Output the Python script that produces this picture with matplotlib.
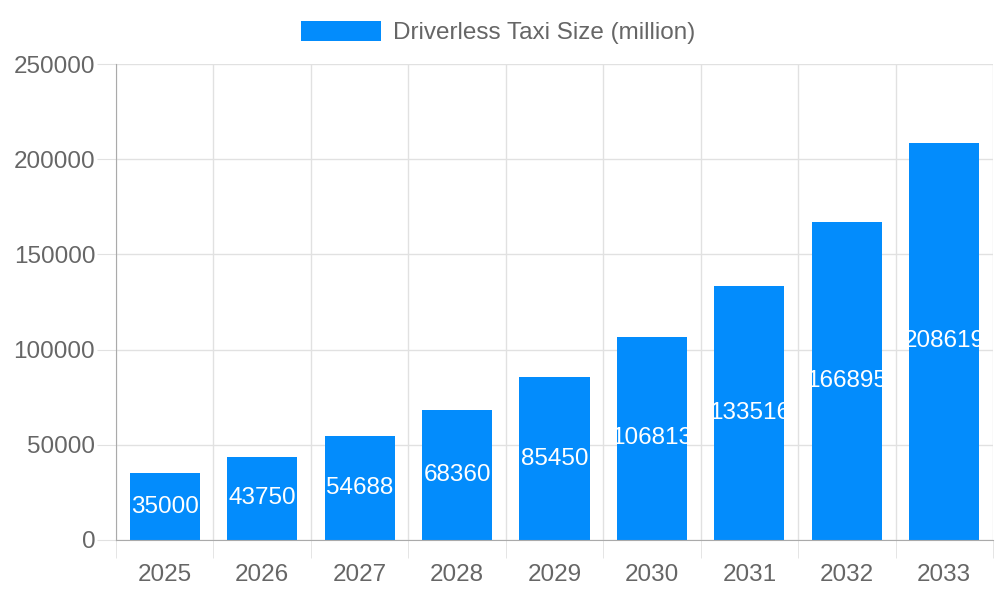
import matplotlib.pyplot as plt
import numpy as np

# data
years = ["2025", "2026", "2027", "2028", "2029", "2030", "2031", "2032", "2033"]
taxi_size = [35000, 43750, 54688, 68360, 85450, 106813, 133516, 166895, 208619]
series_name = "Driverless Taxi Size (million)"

BAR_COLOR = "#038cfc"
GRID = "#e1e1e1"
TEXT = "#666666"
FS = 17.5

plt.rcParams["font.family"] = ["Liberation Sans", "DejaVu Sans"]

fig = plt.figure(figsize=(10, 6), dpi=100)
ax = fig.add_axes([0.116, 0.1, 0.877, 0.7933])

x = np.arange(len(years))
bars = ax.bar(x, taxi_size, width=0.72, color=BAR_COLOR, zorder=2, label=series_name)

# value labels, white, centred in the bar and clipped to it
for b, v in zip(bars, taxi_size):
    t = ax.text(b.get_x() + b.get_width() / 2, v / 2, str(v), ha="center", va="center",
                color="white", fontsize=FS, zorder=3)
    t.set_clip_path(b)

ax.set_xlim(-0.5, len(years) - 0.5)
ax.set_ylim(0, 250000)
ax.set_yticks(np.arange(0, 250001, 50000))
ax.set_xticks(x)
ax.set_xticklabels(years)
ax.set_xticks(np.arange(-0.5, len(years)), minor=True)

ax.grid(True, axis="y", color=GRID, linewidth=1, zorder=0)
ax.grid(True, axis="x", which="minor", color=GRID, linewidth=1, zorder=0)
ax.tick_params(axis="x", which="major", length=0, labelsize=FS, labelcolor=TEXT, pad=17)
ax.tick_params(axis="x", which="minor", length=13, color=GRID)
ax.tick_params(axis="y", length=14, color=GRID, labelsize=FS, labelcolor=TEXT, pad=1)

for s in ["top", "right"]:
    ax.spines[s].set_visible(False)
ax.spines["left"].set_color("#aaaaaa")
ax.spines["bottom"].set_color("#aaaaaa")

leg = fig.legend(loc="upper center", bbox_to_anchor=(0.498, 1.002), frameon=False,
                 handlelength=3.28, handleheight=0.94, handletextpad=0.5,
                 fontsize=FS, labelcolor=TEXT)

fig.savefig("out.png", dpi=100)
